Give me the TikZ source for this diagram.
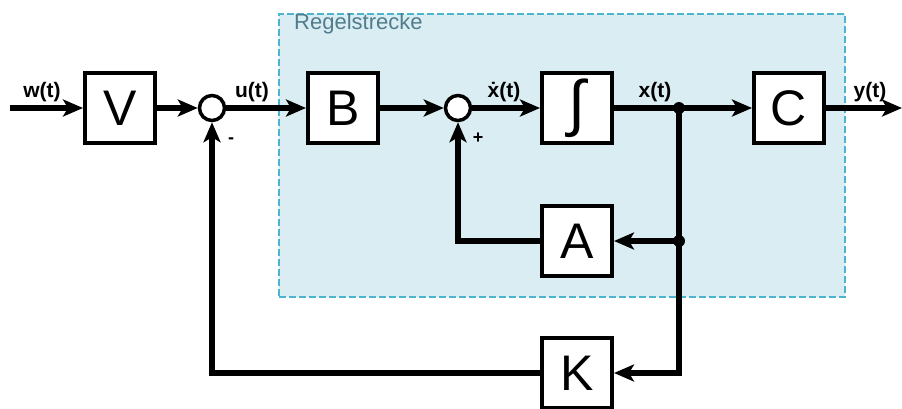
\documentclass[tikz,border=0pt]{standalone}
\usepackage{fontspec}
\setmainfont{Liberation Sans}
\usetikzlibrary{arrows.meta}
\definecolor{rsfill}{RGB}{218,237,243}
\definecolor{rsline}{RGB}{77,180,207}
\definecolor{rstext}{RGB}{80,125,140}
\begin{document}
\begin{tikzpicture}[x=1pt,y=-1pt,
  blk/.style={draw, line width=4pt, fill=white, minimum width=70pt, minimum height=70pt, inner sep=0pt, font=\fontsize{50}{50}\selectfont},
  sumc/.style={draw, circle, line width=3.5pt, fill=white, minimum size=25pt, inner sep=0pt},
  sig/.style={line width=5.5pt, -{Stealth[length=20pt,width=17pt,inset=5pt]}},
  wire/.style={line width=5.5pt},
  lbl/.style={font=\fontsize{21}{21}\selectfont\bfseries, inner sep=0pt},
  sgn/.style={font=\fontsize{18}{18}\selectfont\bfseries, inner sep=0pt},
  dot/.style={circle, fill=black, minimum size=12pt, inner sep=0pt}]
\useasboundingbox (0,0) rectangle (902,408);
% Regelstrecke region
\node[draw=rsline, fill=rsfill, line width=2pt, dash pattern=on 7pt off 3pt, minimum width=566pt, minimum height=283pt, inner sep=0pt] (rs) at (561.5,155) {};
\node[anchor=west, text=rstext, font=\fontsize{22}{22}\selectfont, inner sep=0pt] (rslbl) at (294,24) {Regelstrecke};
% blocks
\node[blk] (V) at (120,108) {V};
\node[sumc] (s1) at (212,108) {};
\node[blk] (B) at (343,108) {B};
\node[sumc] (s2) at (458,108) {};
\node[blk, font=\fontsize{62}{62}\selectfont] (I) at (577,108) {∫};
\node[blk] (C) at (789,108) {C};
\node[blk] (A) at (577,241) {A};
\node[blk] (K) at (577,373) {K};
\coordinate (win) at (10,108);
\coordinate (yout) at (902,108);
\node[dot] (j1) at (679,108) {};
\node[dot] (j2) at (679,241) {};
% signals
\draw[sig] (win) -- (V.west);
\draw[sig] (V.east) -- (s1.west);
\draw[sig] (s1.east) -- (B.west);
\draw[sig] (B.east) -- (s2.west);
\draw[sig] (s2.east) -- (I.west);
\draw[wire] (I.east) -- (j1.center);
\draw[sig] (j1.center) -- (C.west);
\draw[sig] (C.east) -- (yout);
\draw[wire] (j1.center) -- (j2.center);
\draw[sig] (j2.center) -- (A.east);
\draw[sig] (j2.center) |- (K.east);
\draw[sig] (A.west) -| (s2.south);
\draw[sig] (K.west) -| (s1.south);
% labels
\node[lbl] (lw) at (42,92) {w(t)};
\node[lbl] (lu) at (252,92) {u(t)};
\node[lbl] (lxd) at (504,92) {ẋ(t)};
\node[lbl] (lx) at (655,92) {x(t)};
\node[lbl] (ly) at (870,92) {y(t)};
\node[sgn] (plus) at (478,138) {+};
\node[sgn] (minus) at (231,141) {-};
\end{tikzpicture}
\end{document}
